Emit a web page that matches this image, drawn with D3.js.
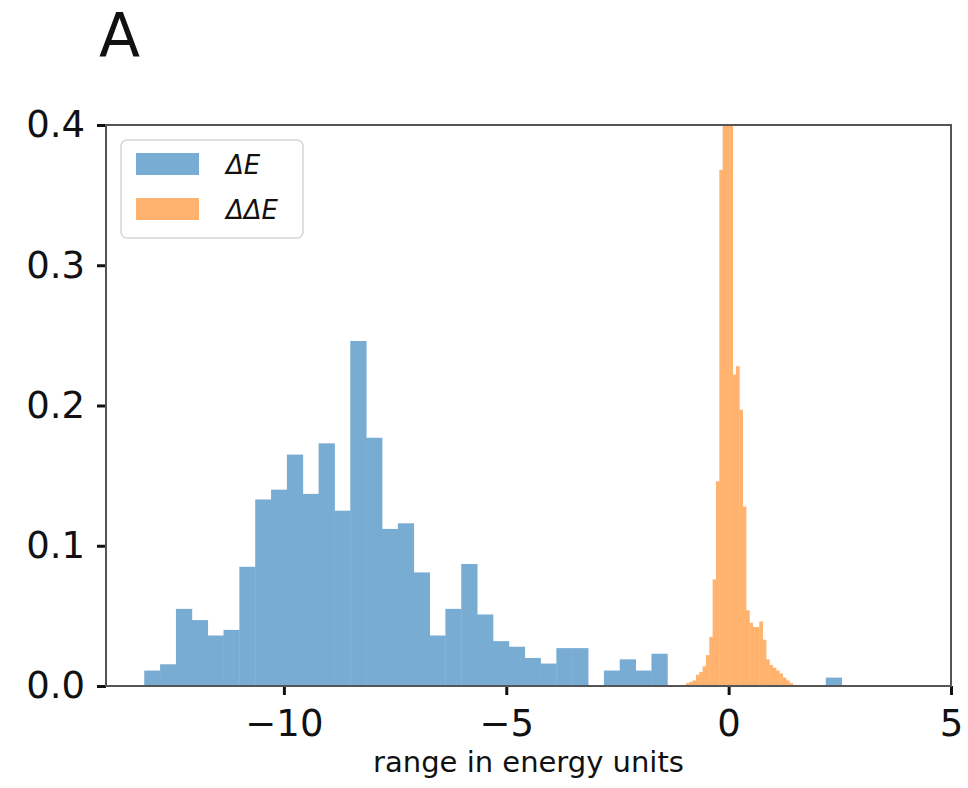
<!DOCTYPE html>
<html>
<head>
<meta charset="utf-8">
<script src="https://cdn.jsdelivr.net/npm/d3@7"></script>
<style>
    body { margin: 0; background: #fff; }
    svg text { font-family: "DejaVu Sans", sans-serif; fill: #111; }
</style>
</head>
<body>
<figure id="chart" style="margin:0"></figure>
<script>
// blue histogram (dE): 44 bins starting at -13.14
const dEStart = -13.14;
const dEWidth = 0.3564;
const dEValues = [0.011, 0.0155, 0.055, 0.047, 0.036, 0.040, 0.085, 0.133, 0.140, 0.165,
    0.137, 0.173, 0.125, 0.246, 0.177, 0.112, 0.116, 0.081, 0.036, 0.055,
    0.087, 0.051, 0.032, 0.028, 0.020, 0.016, 0.027, 0.027, 0, 0.011,
    0.019, 0.011, 0.023, 0, 0, 0, 0, 0, 0, 0,
    0, 0, 0, 0.006];

// orange histogram (ddE): narrow bins around zero
const ddEStart = -0.96;
const ddEWidth = 0.075;
const ddEValues = [0.002, 0.003, 0.004, 0.008, 0.010, 0.014, 0.022, 0.035, 0.076, 0.146,
    0.368, 0.4, 0.4, 0.4, 0.222, 0.228, 0.197, 0.128, 0.054, 0.045,
    0.042, 0.042, 0.046, 0.033, 0.019, 0.015, 0.013, 0.011, 0.009, 0.006,
    0.004, 0.002];

const xTicks = [-10, -5, 0, 5];
const yTicks = [0.0, 0.1, 0.2, 0.3, 0.4];
const legendLabels = ["ΔE", "ΔΔE"];

const colors = ["#78acd2", "#ffb36f"];

let dimensions = {
    width: 968,
    height: 788,
    margin: { top: 125, right: 17, bottom: 102, left: 106 },
};
dimensions.boundedWidth = dimensions.width - dimensions.margin.left - dimensions.margin.right;
dimensions.boundedHeight = dimensions.height - dimensions.margin.top - dimensions.margin.bottom;

const svgRoot = d3.select("figure#chart")
    .append("svg")
    .attr("width", dimensions.width)
    .attr("height", dimensions.height);

// panel letter
svgRoot.append("text")
    .attr("x", 99)
    .attr("y", 56)
    .style("font-size", "60px")
    .text("A");

const svg = svgRoot.append("g")
    .attr("transform", `translate(${dimensions.margin.left},${dimensions.margin.top})`);

const xScale = d3.scaleLinear()
    .domain([-14, 5])
    .range([0, dimensions.boundedWidth]);

const yScale = d3.scaleLinear()
    .domain([0, 0.4])
    .range([dimensions.boundedHeight, 0]);

svg.append("clipPath").attr("id", "plot-clip")
    .append("rect")
    .attr("width", dimensions.boundedWidth)
    .attr("height", dimensions.boundedHeight);

const binsOf = (start, width, values) =>
    values.map((v, i) => ({ x0: start + i * width, x1: start + (i + 1) * width, v }));

const plot = svg.append("g").attr("clip-path", "url(#plot-clip)");

[binsOf(dEStart, dEWidth, dEValues), binsOf(ddEStart, ddEWidth, ddEValues)].forEach((bins, k) => {
    plot.append("g")
        .selectAll("rect")
        .data(bins.filter(d => d.v > 0))
        .enter()
        .append("rect")
        .attr("x", d => xScale(d.x0))
        .attr("width", d => xScale(d.x1) - xScale(d.x0) + 0.4)
        .attr("y", d => yScale(d.v))
        .attr("height", d => yScale(0) - yScale(d.v))
        .attr("fill", colors[k]);
});

// axes
const xAxis = svg.append("g")
    .attr("transform", `translate(0,${dimensions.boundedHeight})`)
    .call(d3.axisBottom(xScale).tickValues(xTicks).tickSize(9).tickPadding(15)
        .tickFormat(d => d < 0 ? "\u2212" + Math.abs(d) : d));

const yAxis = svg.append("g")
    .call(d3.axisLeft(yScale).tickValues(yTicks).tickSize(9).tickPadding(12)
        .tickFormat(d3.format(".1f")));

[xAxis, yAxis].forEach(ax => {
    ax.select(".domain").remove();
    ax.selectAll(".tick line").attr("stroke", "#111").attr("stroke-width", 3);
    ax.selectAll("text")
        .attr("fill", "#111")
        .style("font-size", "37px")
        .style("font-family", "DejaVu Sans, sans-serif");
});

// spines
svg.append("rect")
    .attr("width", dimensions.boundedWidth)
    .attr("height", dimensions.boundedHeight)
    .attr("fill", "none")
    .attr("stroke", "#555")
    .attr("stroke-width", 2);

// x label
svg.append("text")
    .attr("x", dimensions.boundedWidth / 2)
    .attr("y", dimensions.boundedHeight + 86)
    .attr("text-anchor", "middle")
    .style("font-size", "29px")
    .text("range in energy units");

// legend
const legend = svg.append("g").attr("transform", "translate(15,15)");
legend.append("rect")
    .attr("width", 182)
    .attr("height", 98)
    .attr("rx", 6)
    .attr("fill", "#fff")
    .attr("fill-opacity", 0.8)
    .attr("stroke", "#d6d6d6")
    .attr("stroke-width", 1.5);

legend.selectAll(".item")
    .data(legendLabels)
    .enter()
    .append("g")
    .attr("transform", (d, i) => `translate(15,${13 + i * 45})`)
    .each(function(d, i) {
        const g = d3.select(this);
        g.append("rect")
            .attr("width", 63)
            .attr("height", 22)
            .attr("fill", colors[i]);
        g.append("text")
            .attr("x", 90)
            .attr("y", 21)
            .style("font-size", "26px")
            .style("font-style", "italic")
            .text(d);
    });
</script>
</body>
</html>
